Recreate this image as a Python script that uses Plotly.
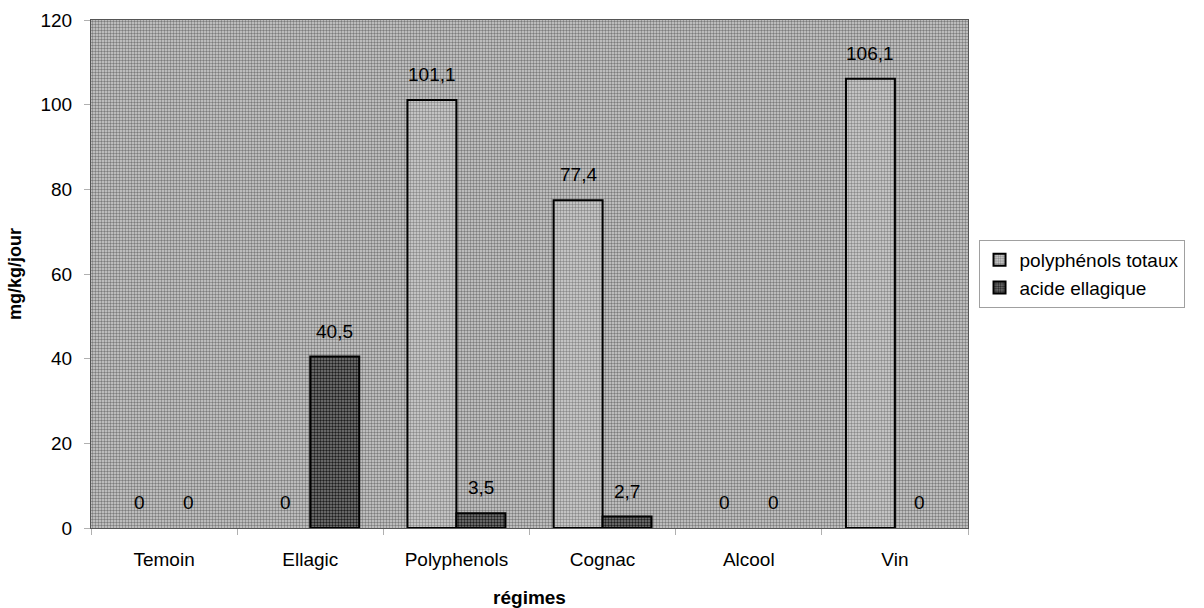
import plotly.graph_objects as go

regimes = ["Temoin", "Ellagic", "Polyphenols", "Cognac", "Alcool", "Vin"]
polyphenols_totaux = [0, 0, 101.1, 77.4, 0, 106.1]
acide_ellagique = [0, 40.5, 3.5, 2.7, 0, 0]
y_ticks = [0, 20, 40, 60, 80, 100, 120]

FONT = "Liberation Sans, Arial, sans-serif"
FS = 19


def fr(v):
    s = f"{v:.1f}".replace(".", ",")
    return s[:-2] if s.endswith(",0") else s


fig = go.Figure()

# stippled plot-area background, drawn on the base (hidden) axes
fig.add_bar(
    x=[0.5], y=[1], width=[1], xaxis="x", yaxis="y",
    marker=dict(
        color="#cfcfcf", line=dict(width=0),
        pattern=dict(shape=".", fgcolor="#7c7c7c", bgcolor="#d2d2d2",
                     size=3, solidity=0.5, fillmode="replace"),
    ),
    showlegend=False, hoverinfo="skip",
)

series = [
    ("polyphénols totaux", polyphenols_totaux, "#8a8a8a", "#d6d6d6", -1),
    ("acide ellagique", acide_ellagique, "#1e1e1e", "#7e7e7e", 1),
]
for name, vals, fg, bg, side in series:
    # tallest bar first so the legend swatch takes a drawn outline;
    # the category axis keeps the régimes order
    order = sorted(range(len(regimes)), key=lambda i: -vals[i])
    xs = [regimes[i] for i in order]
    ys = [vals[i] for i in order]
    fig.add_bar(
        x=xs, y=ys, name=name, xaxis="x2", yaxis="y2",
        marker=dict(
            color=bg,
            line=dict(color="black", width=[2 if v > 0 else 0 for v in ys]),
            pattern=dict(shape=".", fgcolor=fg, bgcolor=bg,
                         size=3, solidity=0.5, fillmode="replace"),
        ),
        offsetgroup=name,
    )
    for cat, v in zip(regimes, vals):
        fig.add_annotation(
            x=cat, y=v, xref="x2", yref="y2", text=fr(v),
            showarrow=False, yanchor="bottom", yshift=13,
            xshift=side * 24.5, font=dict(size=FS, family=FONT, color="black"),
        )

fig.update_layout(
    width=1204, height=608,
    margin=dict(l=91, r=236, t=20, b=80),
    paper_bgcolor="white", plot_bgcolor="white",
    barmode="group", bargap=0.33, bargroupgap=0,
    font=dict(family=FONT, size=FS, color="black"),
    showlegend=True,
    legend=dict(
        x=1.012, y=0.5, xanchor="left", yanchor="middle",
        bordercolor="#a0a0a0", borderwidth=1, bgcolor="white",
        font=dict(size=FS, family=FONT), tracegroupgap=4,
        itemwidth=30,
    ),
    xaxis=dict(range=[0, 1], visible=False, fixedrange=True),
    yaxis=dict(range=[0, 1], visible=False, fixedrange=True),
    xaxis2=dict(
        overlaying="x", side="bottom", automargin=False,
        categoryorder="array", categoryarray=regimes,
        title=dict(text="<b>régimes</b>", font=dict(size=FS), standoff=21),
        tickson="boundaries", ticks="outside", ticklen=6, tickcolor="#b0b0b0",
        ticklabelstandoff=14,
        showline=True, linecolor="#555555", linewidth=1, mirror=True,
        tickfont=dict(size=FS),
    ),
    yaxis2=dict(
        overlaying="y", side="left", automargin=False,
        title=dict(text="<b>mg/kg/jour</b>", font=dict(size=FS - 1), standoff=14),
        range=[0, 120], tickvals=y_ticks, ticks="outside", ticklen=6,
        tickcolor="#b0b0b0", showgrid=False, zeroline=False,
        ticklabelstandoff=8,
        showline=True, linecolor="#555555", linewidth=1, mirror=True,
        tickfont=dict(size=FS),
    ),
)

fig.write_html("out.html")
